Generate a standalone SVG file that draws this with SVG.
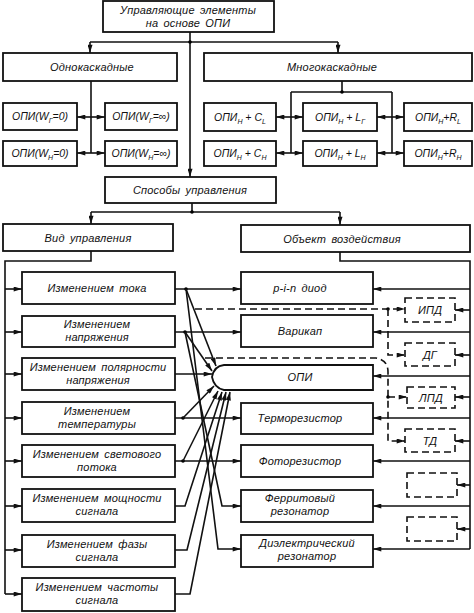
<svg xmlns="http://www.w3.org/2000/svg" width="474" height="613" viewBox="0 0 474 613">
<style>
.b{fill:#fff;stroke:#111;stroke-width:1.8}
.d{fill:none;stroke:#111;stroke-width:1.6;stroke-dasharray:7 4}
.l{fill:none;stroke:#111;stroke-width:1.6}
.dl{fill:none;stroke:#111;stroke-width:1.6;stroke-dasharray:7 4}
.a{marker-end:url(#ar)}
text{font-family:"Liberation Sans","DejaVu Sans",sans-serif;font-style:italic;font-size:11px;fill:#111;text-anchor:middle;letter-spacing:0.2px;word-spacing:2px}
.t{font-size:10.5px;letter-spacing:0;word-spacing:0}
.s{font-size:7px}
</style>
<defs>
<marker id="ar" viewBox="0 0 10 6" markerWidth="9" markerHeight="5" refX="10" refY="3" orient="auto-start-reverse" markerUnits="userSpaceOnUse"><path d="M0,0 L10,3 L0,6 Z" fill="#111"/></marker>
</defs>
<rect width="474" height="613" fill="#fff"/>

<g id="connectors">
<path class="l a" d="M190,32 V177"/>
<path class="l" d="M90,42 H338"/>
<path class="l a" d="M90,42 V53"/>
<path class="l a" d="M338,42 V53"/>
<circle cx="190" cy="42" r="1.8"/>
<path class="l" d="M91,81 V153"/>
<path class="l a" d="M91,117 H77"/><path class="l a" d="M91,117 H105"/>
<path class="l a" d="M91,153 H77"/><path class="l a" d="M91,153 H105"/>
<path class="l" d="M342,81 V92 M291,92 H392 M291,92 V153 M392,92 V153"/>
<circle cx="342" cy="92" r="1.8"/>
<path class="l a" d="M291,117 H276"/><path class="l a" d="M291,117 H303"/>
<path class="l a" d="M392,117 H377"/><path class="l a" d="M392,117 H404"/>
<path class="l a" d="M291,153 H276"/><path class="l a" d="M291,153 H303"/>
<path class="l a" d="M392,153 H377"/><path class="l a" d="M392,153 H404"/>
<path class="l" d="M192,203 V212 M91,212 H340"/>
<circle cx="192" cy="212" r="1.8"/>
<path class="l a" d="M91,212 V224"/>
<path class="l a" d="M340,212 V225"/>
<path class="l" d="M91,251 V261 H5 V594"/>
<path class="l a" d="M5,289 H22"/><path class="l a" d="M5,332 H22"/><path class="l a" d="M5,374 H22"/><path class="l a" d="M5,418 H22"/>
<path class="l a" d="M5,461 H22"/><path class="l a" d="M5,506 H22"/><path class="l a" d="M5,550 H22"/><path class="l a" d="M5,594 H22"/>
<path class="l" d="M340,252 V261 H470 V549"/>
<path class="l a" d="M470,289 H373"/><path class="l a" d="M470,332 H373"/><path class="l a" d="M470,376 H373"/><path class="l a" d="M470,418 H373"/>
<path class="l a" d="M470,461 H373"/><path class="l a" d="M470,506 H373"/><path class="l a" d="M470,549 H373"/>
<path class="l a" d="M470,310 H455"/><path class="l a" d="M470,355 H455"/><path class="l a" d="M470,397 H455"/><path class="l a" d="M470,441 H455"/>
<path class="l a" d="M470,485 H457"/><path class="l a" d="M470,529 H457"/>
<path class="l a" d="M175,289 H241"/><circle cx="186" cy="289" r="1.8"/>
<path class="l a" d="M186,289 L216,366"/>
<path class="l a" d="M186,289 L218,549 H241"/>
<path class="l a" d="M175,332 H241"/><circle cx="185" cy="332" r="1.8"/>
<path class="l a" d="M185,332 L212,371"/>
<path class="l a" d="M185,332 L222,506 H241"/>
<path class="l a" d="M175,374 H212"/>
<path class="l a" d="M175,418 H241"/><circle cx="183" cy="418" r="1.8"/>
<path class="l a" d="M183,418 L214,386"/>
<path class="l a" d="M175,461 H241"/><circle cx="183" cy="461" r="1.8"/>
<path class="l a" d="M183,461 L218,391"/>
<path class="l a" d="M175,506 H185 L222,392"/>
<path class="l a" d="M175,550 H187 L226,392"/>
<path class="l a" d="M175,594 H190 L230,392"/>
<path class="dl a" d="M195,309 H405"/>
<circle cx="388" cy="309" r="1.8"/>
<path class="dl a" d="M388,309 V355 H405"/>
<path class="dl a" d="M205,358 H376 Q388,360 388,372 V441 H405"/>
<circle cx="388" cy="397" r="1.8"/>
<path class="dl a" d="M388,397 H407"/>
</g>

<g id="n-top"><rect class="b" x="103" y="1" width="171" height="31"/><text x="188" y="14">Управляющие  элементы</text><text x="188" y="27">на основе ОПИ</text></g>
<g id="n-odno"><rect class="b" x="3" y="53" width="174" height="28"/><text x="92" y="71">Однокаскадные</text></g>
<g id="n-mnogo"><rect class="b" x="204" y="53" width="268" height="28"/><text x="332" y="71">Многокаскадные</text></g>

<g id="n-wg0"><rect class="b" x="3" y="103" width="74" height="27"/><text class="t" x="40" y="120">ОПИ(W<tspan class="s" dy="2.5">Г</tspan><tspan dy="-2.5">=0)</tspan></text></g>
<g id="n-wginf"><rect class="b" x="105" y="103" width="72" height="27"/><text class="t" x="141" y="120">ОПИ(W<tspan class="s" dy="2.5">Г</tspan><tspan dy="-2.5">=∞)</tspan></text></g>
<g id="n-wn0"><rect class="b" x="3" y="141" width="74" height="25"/><text class="t" x="40" y="157">ОПИ(W<tspan class="s" dy="2.5">Н</tspan><tspan dy="-2.5">=0)</tspan></text></g>
<g id="n-wninf"><rect class="b" x="105" y="141" width="72" height="25"/><text class="t" x="141" y="157">ОПИ(W<tspan class="s" dy="2.5">Н</tspan><tspan dy="-2.5">=∞)</tspan></text></g>

<g id="n-cl"><rect class="b" x="204" y="103" width="72" height="28"/><text class="t" x="240" y="121">ОПИ<tspan class="s" dy="2.5">Н</tspan><tspan dy="-2.5"> + C</tspan><tspan class="s" dy="2.5">L</tspan></text></g>
<g id="n-lg"><rect class="b" x="303" y="103" width="74" height="28"/><text class="t" x="340" y="121">ОПИ<tspan class="s" dy="2.5">Н</tspan><tspan dy="-2.5"> + L</tspan><tspan class="s" dy="2.5">Г</tspan></text></g>
<g id="n-rl"><rect class="b" x="404" y="103" width="68" height="28"/><text class="t" x="438" y="121">ОПИ<tspan class="s" dy="2.5">Н</tspan><tspan dy="-2.5">+R</tspan><tspan class="s" dy="2.5">L</tspan></text></g>
<g id="n-cn"><rect class="b" x="204" y="141" width="72" height="25"/><text class="t" x="240" y="157">ОПИ<tspan class="s" dy="2.5">Н</tspan><tspan dy="-2.5"> + C</tspan><tspan class="s" dy="2.5">Н</tspan></text></g>
<g id="n-ln"><rect class="b" x="303" y="141" width="74" height="25"/><text class="t" x="340" y="157">ОПИ<tspan class="s" dy="2.5">Н</tspan><tspan dy="-2.5"> + L</tspan><tspan class="s" dy="2.5">Н</tspan></text></g>
<g id="n-rn"><rect class="b" x="404" y="141" width="68" height="25"/><text class="t" x="438" y="157">ОПИ<tspan class="s" dy="2.5">Н</tspan><tspan dy="-2.5">+R</tspan><tspan class="s" dy="2.5">Н</tspan></text></g>

<g id="n-sposoby"><rect class="b" x="105" y="177" width="171" height="26"/><text x="190" y="194">Способы управления</text></g>
<g id="n-vid"><rect class="b" x="3" y="224" width="170" height="27"/><text x="88" y="242">Вид  управления</text></g>
<g id="n-obj"><rect class="b" x="241" y="225" width="229" height="27"/><text x="342" y="243">Объект  воздействия</text></g>

<g id="n-tok"><rect class="b" x="22" y="272" width="153" height="32"/><text x="97" y="292">Изменением  тока</text></g>
<g id="n-napr"><rect class="b" x="22" y="316" width="153" height="31"/><text x="97" y="328">Изменением</text><text x="97" y="341">напряжения</text></g>
<g id="n-pol"><rect class="b" x="22" y="358" width="153" height="32"/><text x="98" y="371">Изменением полярности</text><text x="98" y="384">напряжения</text></g>
<g id="n-temp"><rect class="b" x="22" y="402" width="153" height="32"/><text x="97" y="415">Изменением</text><text x="97" y="428">температуры</text></g>
<g id="n-svet"><rect class="b" x="22" y="445" width="153" height="32"/><text x="97" y="458">Изменением  светового</text><text x="97" y="471">потока</text></g>
<g id="n-mosh"><rect class="b" x="22" y="489" width="153" height="33"/><text x="97" y="502">Изменением  мощности</text><text x="97" y="515">сигнала</text></g>
<g id="n-faza"><rect class="b" x="22" y="535" width="153" height="32"/><text x="97" y="548">Изменением  фазы</text><text x="97" y="561">сигнала</text></g>
<g id="n-chast"><rect class="b" x="22" y="578" width="153" height="33"/><text x="97" y="591">Изменением  частоты</text><text x="97" y="604">сигнала</text></g>

<g id="n-pin"><rect class="b" x="241" y="272" width="132" height="32"/><text x="300" y="292">p-i-n  диод</text></g>
<g id="n-var"><rect class="b" x="241" y="315" width="132" height="32"/><text x="300" y="335">Варикап</text></g>
<g id="n-opi"><path class="b" d="M373,365 H224 Q214,366 212,377 Q214,388 224,390 H373 Z"/><text x="300" y="381">ОПИ</text></g>
<g id="n-term"><rect class="b" x="241" y="403" width="132" height="31"/><text x="300" y="422">Терморезистор</text></g>
<g id="n-foto"><rect class="b" x="241" y="445" width="132" height="32"/><text x="300" y="465">Фоторезистор</text></g>
<g id="n-ferr"><rect class="b" x="241" y="490" width="132" height="32"/><text x="300" y="502">Ферритовый</text><text x="300" y="515">резонатор</text></g>
<g id="n-diel"><rect class="b" x="241" y="535" width="132" height="32"/><text x="307" y="547">Диэлектрический</text><text x="307" y="560">резонатор</text></g>

<g id="n-ipd"><rect class="d" x="405" y="298" width="50" height="24"/><text x="430" y="314">ИПД</text></g>
<g id="n-dg"><rect class="d" x="405" y="343" width="50" height="23"/><text x="430" y="359">ДГ</text></g>
<g id="n-lpd"><rect class="d" x="407" y="387" width="48" height="21"/><text x="431" y="402">ЛПД</text></g>
<g id="n-td"><rect class="d" x="405" y="429" width="50" height="23"/><text x="430" y="445">ТД</text></g>
<g id="n-e1"><rect class="d" x="407" y="473" width="50" height="24"/></g>
<g id="n-e2"><rect class="d" x="407" y="517" width="50" height="24"/></g>
</svg>
